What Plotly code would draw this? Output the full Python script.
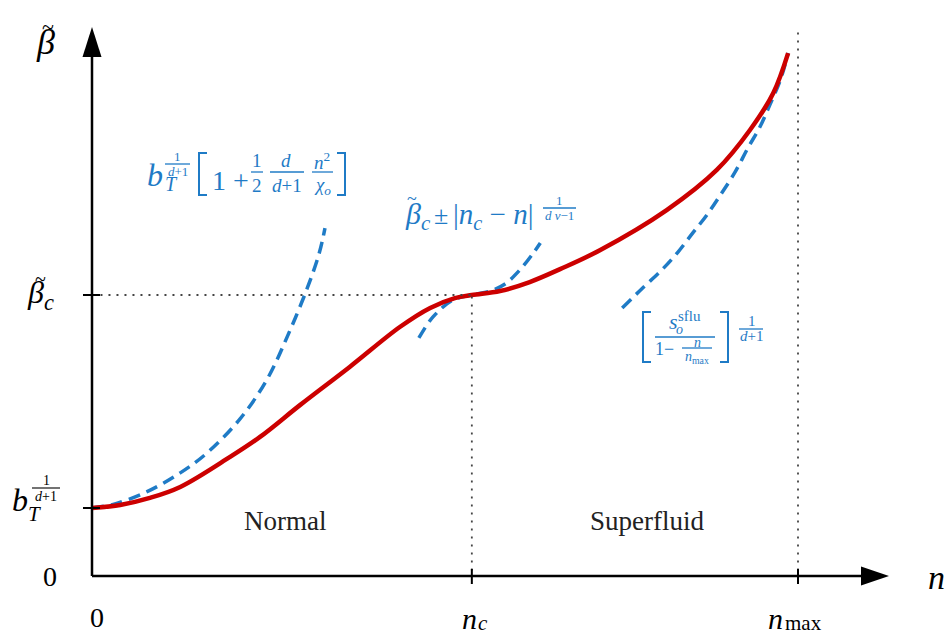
import plotly.graph_objects as go

# data (n on x, beta~ on y); n_max = 1, beta_c = 1
n_c = 0.538
n_max = 1.0
beta_c = 1.0
b_T = 0.242

n_exact = [0, 0.040, 0.082, 0.125, 0.195, 0.238, 0.295, 0.365, 0.436, 0.479, 0.514,
           0.538, 0.578, 0.620, 0.663, 0.720, 0.814, 0.885, 0.932, 0.965, 0.986]
beta_exact = [0.242, 0.253, 0.278, 0.317, 0.423, 0.495, 0.609, 0.744, 0.886, 0.954, 0.989,
              1.0, 1.014, 1.046, 1.092, 1.160, 1.302, 1.445, 1.587, 1.719, 1.861]

n_low = [0, 0.030, 0.078, 0.125, 0.163, 0.210, 0.248, 0.278, 0.305, 0.322, 0.330]
beta_low = [0.242, 0.255, 0.300, 0.367, 0.438, 0.560, 0.700, 0.860, 1.025, 1.150, 1.238]

n_mid = [0.463, 0.483, 0.511, 0.538, 0.564, 0.585, 0.606, 0.625, 0.635]
beta_mid = [0.847, 0.922, 0.982, 1.0, 1.014, 1.039, 1.089, 1.149, 1.185]

n_high = [0.751, 0.780, 0.807, 0.830, 0.851, 0.871, 0.892, 0.911, 0.929, 0.946, 0.960, 0.975, 0.986]
beta_high = [0.954, 1.025, 1.089, 1.153, 1.221, 1.285, 1.363, 1.438, 1.523, 1.598, 1.676, 1.765, 1.861]

W, H = 950, 637
RED = '#CC0000'
BLUE = '#1F7BC6'
FONT = 'Liberation Serif'


def fx(p):
    return p / W


def fy(p):
    return 1 - p / H


fig = go.Figure()
for xs, ys in [(n_low, beta_low), (n_mid, beta_mid), (n_high, beta_high)]:
    fig.add_trace(go.Scatter(x=xs, y=ys, mode='lines', line_shape='spline',
                             line=dict(color=BLUE, width=3.5, dash='12px,7px')))
fig.add_trace(go.Scatter(x=n_exact, y=beta_exact, mode='lines', line_shape='spline',
                         line=dict(color=RED, width=4.5)))

shapes = []
ann = []

# dotted guides
dot = dict(color='#444444', width=1.8, dash='2px,6px')
shapes.append(dict(type='line', xref='x', yref='y', x0=0.012, x1=n_c, y0=beta_c, y1=beta_c, line=dot))
shapes.append(dict(type='line', xref='x', yref='y', x0=n_c, x1=n_c, y0=0.02, y1=beta_c, line=dot))
shapes.append(dict(type='line', xref='x', yref='y', x0=n_max, x1=n_max, y0=0.02, y1=1.95, line=dot))

# axes
ax = dict(color='black', width=2.5)
shapes.append(dict(type='line', xref='x', yref='y', x0=0, x1=0, y0=0, y1=1.88, line=ax))
shapes.append(dict(type='line', xref='x', yref='y', x0=0, x1=1.12, y0=0, y1=0, line=ax))
shapes.append(dict(type='path', xref='paper', yref='paper',
                   path=f'M {fx(92)},{fy(27)} L {fx(101.5)},{fy(57)} L {fx(82.5)},{fy(57)} Z',
                   fillcolor='black', line=dict(width=0)))
shapes.append(dict(type='path', xref='paper', yref='paper',
                   path=f'M {fx(889)},{fy(576)} L {fx(861)},{fy(566.5)} L {fx(861)},{fy(585.5)} Z',
                   fillcolor='black', line=dict(width=0)))
# ticks
tk = dict(color='black', width=2)
for yv in [beta_c, b_T]:
    shapes.append(dict(type='line', xref='paper', yref='y', x0=fx(83), x1=fx(100), y0=yv, y1=yv, line=tk))
for xv in [n_c, n_max]:
    shapes.append(dict(type='line', xref='x', yref='paper', x0=xv, x1=xv, y0=fy(569), y1=fy(584), line=tk))


def label(px, py, text, size, color='black', xanchor='center', yanchor='middle'):
    ann.append(dict(x=fx(px), y=fy(py), xref='paper', yref='paper', text=text, showarrow=False,
                    xanchor=xanchor, yanchor=yanchor,
                    font=dict(family=FONT, size=size, color=color)))


def hbar(x0, x1, py, color=BLUE, width=1.3):
    shapes.append(dict(type='line', xref='paper', yref='paper', x0=fx(x0), x1=fx(x1),
                       y0=fy(py), y1=fy(py), line=dict(color=color, width=width)))


def bracket(x0, x1, y0, y1, left=True, color=BLUE):
    if left:
        p = f'M {fx(x1)},{fy(y0)} L {fx(x0)},{fy(y0)} L {fx(x0)},{fy(y1)} L {fx(x1)},{fy(y1)}'
    else:
        p = f'M {fx(x0)},{fy(y0)} L {fx(x1)},{fy(y0)} L {fx(x1)},{fy(y1)} L {fx(x0)},{fy(y1)}'
    shapes.append(dict(type='path', xref='paper', yref='paper', path=p,
                       line=dict(color=color, width=2)))


# axis labels
label(45, 42, '<i>β</i>', 36)
label(48, 26, '~', 22)
label(40, 294, '<i>β<sub>c</sub></i>', 32)
label(40, 279, '~', 20)
label(20, 500, '<i>b</i>', 32)
label(34, 514, '<i>T</i>', 21)
label(46, 480, '1', 14)
hbar(32, 60, 488, 'black', 1.1)
label(46, 496, '<i>d</i>+1', 14)
label(50, 576, '0', 28)
label(97, 617, '0', 28)
label(469, 637, '<i>n</i>', 30, yanchor='bottom')
label(483, 637, '<i>c</i>', 21, yanchor='bottom')
label(775, 637, '<i>n</i>', 30, yanchor='bottom')
label(803, 637, 'max', 21, yanchor='bottom')
label(936, 577, '<i>n</i>', 34)
label(285, 521, 'Normal', 27, '#222222')
label(647, 521, 'Superfluid', 27, '#222222')

# formula 1: small-n expansion
label(155, 175, '<i>b</i>', 32, BLUE)
label(171, 184, '<i>T</i>', 20, BLUE)
label(177, 157, '1', 13, BLUE)
hbar(165, 190, 164)
label(178, 171, '<i>d</i>+1', 13, BLUE)
bracket(199, 207, 153, 195, True)
label(230, 181, '1 +', 28, BLUE)
label(257, 160, '1', 19, BLUE)
hbar(251, 263, 172)
label(257, 185, '2', 19, BLUE)
label(286, 160, '<i>d</i>', 19, BLUE)
hbar(270, 304, 172)
label(287, 185, '<i>d</i>+1', 19, BLUE)
label(322, 161, '<i>n</i><sup>2</sup>', 19, BLUE)
hbar(312, 333, 172)
label(322, 186, '<i>χ<sub>o</sub></i>', 19, BLUE)
bracket(337, 345, 153, 195, False)

# formula 2: critical behaviour
label(403, 216, '<i>β<sub>c</sub></i>', 30, BLUE, 'left')
label(412, 199, '~', 18, BLUE)
label(441, 215, '±', 26, BLUE)
label(451, 216, '|<i>n<sub>c</sub></i> − <i>n</i>|', 29, BLUE, 'left')
label(559, 201, '1', 13, BLUE)
hbar(543, 576, 208)
label(559, 215, '<i>d ν</i>−1', 13, BLUE)

# formula 3: superfluid limit
bracket(643, 651, 312, 362, True)
label(673, 321, '<i>s</i>', 22, BLUE)
label(679, 330, '<i>o</i>', 14, BLUE)
label(689, 316, 'sflu', 15, BLUE)
hbar(655, 715, 337)
label(664, 349, '1−', 18, BLUE)
label(697, 342, '<i>n</i>', 14, BLUE)
hbar(682, 712, 348)
label(697, 357, '<i>n</i><sub>max</sub>', 14, BLUE)
bracket(720, 728, 312, 362, False)
label(752, 321, '1', 15, BLUE)
hbar(739, 763, 329)
label(751, 336, '<i>d</i>+1', 15, BLUE)

fig.update_layout(
    width=W, height=H,
    margin=dict(l=0, r=0, t=0, b=0),
    paper_bgcolor='white', plot_bgcolor='white',
    showlegend=False,
    xaxis=dict(range=[-92 / 706, (W - 92) / 706], visible=False, fixedrange=True),
    yaxis=dict(range=[(576 - H) / 281, 576 / 281], visible=False, fixedrange=True),
    shapes=shapes, annotations=ann,
)

fig.write_html('out.html', config={'displayModeBar': False},
               post_script="document.body.style.margin='0';document.body.style.overflow='hidden';")
